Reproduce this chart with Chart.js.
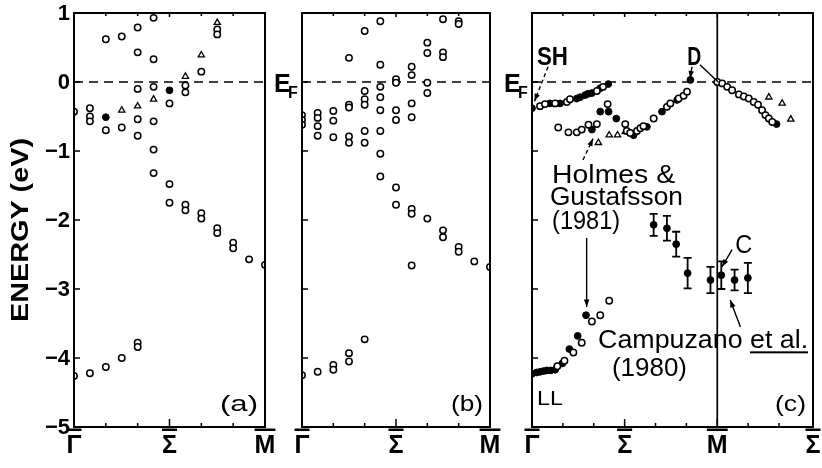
<!DOCTYPE html>
<html>
<head>
<meta charset="utf-8">
<script src="https://cdn.jsdelivr.net/npm/chart.js@4.4.0/dist/chart.umd.min.js"></script>
<style>
  html, body { margin: 0; padding: 0; background: #fff; }
  #wrap { position: relative; width: 822px; height: 468px; }
  #wrap canvas { position: absolute; left: 0; top: 0; }
</style>
</head>
<body>
<div id="wrap">
  <canvas id="pa" width="822" height="468"></canvas>
  <canvas id="pb" width="822" height="468"></canvas>
  <canvas id="pc" width="822" height="468"></canvas>
</div>
<script>
// ---- data: [k, energy(eV)] ----
// panel (a): k in steps of 1/12 of Gamma-M
const aOpen = [
  [0,-0.43],[0,-4.26],
  [1,-0.38],[1,-0.50],[1,-0.57],[1,-4.22],
  [2,0.62],[2,-0.70],[2,-4.13],
  [3,0.66],[3,-0.66],[3,-4.00],
  [4,0.79],[4,0.43],[4,-0.10],[4,-0.54],[4,-0.78],[4,-3.78],[4,-3.84],
  [5,0.93],[5,0.33],[5,-0.07],[5,-0.57],[5,-0.98],[5,-1.32],
  [6,-0.31],[6,-1.48],[6,-1.75],
  [7,-0.05],[7,-0.15],[7,-1.78],[7,-1.86],
  [8,0.15],[8,-1.90],[8,-1.98],
  [9,0.76],[9,0.69],[9,-2.12],[9,-2.19],
  [10,-2.33],[10,-2.41],
  [11,-2.57],
  [12,-2.65]
];
const aFilled = [[2,-0.51],[6,-0.12]];
const aTri = [[3,-0.41],[4,-0.35],[5,-0.25],[7,0.08],[8,0.39],[9,0.86]];

// panel (b)
const bOpen = [
  [0,-0.48],[0,-0.55],[0,-0.62],[0,-4.25],
  [1,-0.45],[1,-0.52],[1,-0.64],[1,-0.78],[1,-4.20],
  [2,-0.42],[2,-0.56],[2,-0.80],[2,-4.10],[2,-4.17],
  [3,0.35],[3,-0.33],[3,-0.37],[3,-0.79],[3,-0.88],[3,-3.93],[3,-4.05],
  [4,0.74],[4,-0.13],[4,-0.25],[4,-0.33],[4,-0.71],[4,-0.88],[4,-3.73],
  [5,0.88],[5,0.25],[5,-0.07],[5,-0.22],[5,-0.41],[5,-0.71],[5,-1.04],[5,-1.37],
  [6,0.04],[6,-0.01],[6,-0.41],[6,-0.55],[6,-1.53],[6,-1.78],
  [7,0.22],[7,0.10],[7,-0.31],[7,-0.51],[7,-1.84],[7,-1.91],[7,-2.66],
  [8,0.57],[8,0.42],[8,-0.01],[8,-0.16],[8,-1.98],
  [9,0.91],[9,0.43],[9,0.36],[9,-2.15],[9,-2.25],
  [10,0.88],[10,0.84],[10,-2.39],[10,-2.46],
  [11,-2.60],
  [12,-2.68]
];

// panel (c): x in tick units, Gamma=0, Sigma=3, M=6, Sigma=9.1
const cOpen = [
  [0.26,-0.35],[0.42,-0.32],[0.75,-0.31],[1.13,-0.29],[1.23,-0.25],[2.10,-0.13],[2.30,-0.07],
  [0.85,-0.66],[1.18,-0.73],[1.45,-0.73],[1.61,-0.69],[1.83,-0.62],[2.10,-0.61],[2.45,-0.32],
  [3.02,-0.61],[3.07,-0.71],[3.18,-0.74],[3.40,-0.71],[3.51,-0.67],[3.61,-0.64],[3.94,-0.53],
  [4.37,-0.36],[4.48,-0.31],[4.75,-0.24],[4.91,-0.20],[5.02,-0.14],
  [6.00,0.00],[6.16,-0.02],[6.32,-0.07],[6.48,-0.12],[6.70,-0.18],[6.86,-0.21],[7.02,-0.24],
  [7.18,-0.29],[7.32,-0.33],[7.45,-0.41],[7.56,-0.48],[7.67,-0.53],[7.78,-0.58],
  [0.82,-4.12],[1.05,-4.04],[1.34,-3.92],[1.61,-3.78],[1.94,-3.47],[2.21,-3.38],[2.50,-3.17]
];
const cFilled = [
  [0,-0.38],[0.58,-0.31],[0.91,-0.31],[1.45,-0.24],[1.56,-0.22],[1.72,-0.19],[1.82,-0.17],
  [1.94,-0.16],[2.21,-0.09],[2.47,-0.03],
  [1.94,-0.69],[2.21,-0.43],[2.48,-0.43],[2.73,-0.53],[3.29,-0.77],[3.72,-0.65],[4.21,-0.43],
  [4.70,-0.26],[5.13,0.03],[7.92,-0.61],
  [0,-4.23],[0.15,-4.21],[0.26,-4.20],[0.37,-4.19],[0.48,-4.18],[0.60,-4.18],[0.75,-4.17],
  [0.98,-4.08],[1.21,-3.87],[1.48,-3.68],[1.75,-3.38]
];
const cTri = [[2.15,-0.88],[2.50,-0.77],[2.77,-0.77],[3.02,-0.72],[7.67,-0.22],[8.10,-0.31],[8.38,-0.54]];

// Campuzano et al. points with error bars
const barX = [3.94, 4.37, 4.67, 5.04, 5.78, 6.13, 6.56, 6.99];
const barY = [-2.07, -2.12, -2.35, -2.77, -2.87, -2.80, -2.87, -2.84];
const barErr = [0.16, 0.18, 0.18, 0.22, 0.19, 0.20, 0.15, 0.22];

const yTicks = [1, 0, -1, -2, -3, -4, -5];
const abLabels = ['Γ', 'Σ', 'M'];
const abLabelPos = [0, 6, 12];
const cLabels = ['Γ', 'Σ', 'M', 'Σ'];
const cLabelPos = [0, 3, 6, 9.1];

const FONT = '"Liberation Sans", Arial, sans-serif';

const pts = arr => arr.map(p => ({ x: p[0], y: p[1] }));

// text squeezed/stretched to a given width
function fitText(ctx, str, x, y, w, font) {
    ctx.font = font;
    const m = ctx.measureText(str).width;
    ctx.save();
    ctx.translate(x, y);
    ctx.scale(w / m, 1);
    ctx.textAlign = 'left';
    ctx.textBaseline = 'alphabetic';
    ctx.fillText(str, 0, 0);
    ctx.restore();
    return w / m;
}

function arrow(ctx, x1, y1, x2, y2, dash, head) {
    ctx.save();
    ctx.lineWidth = 1.4;
    ctx.setLineDash(dash ? [4, 3] : []);
    ctx.beginPath();
    ctx.moveTo(x1, y1);
    ctx.lineTo(x2, y2);
    ctx.stroke();
    ctx.setLineDash([]);
    if (head) {
        const a = Math.atan2(y2 - y1, x2 - x1);
        const L = 8, s = 0.35;
        ctx.beginPath();
        ctx.moveTo(x2, y2);
        ctx.lineTo(x2 - L * Math.cos(a - s), y2 - L * Math.sin(a - s));
        ctx.lineTo(x2 - L * Math.cos(a + s), y2 - L * Math.sin(a + s));
        ctx.closePath();
        ctx.fill();
    }
    ctx.restore();
}

function markerSets(open, filled, tri) {
    return [
        { data: pts(open), pointStyle: 'circle', pointRadius: 3.2, pointBorderWidth: 1.5,
          pointBorderColor: '#000', pointBackgroundColor: '#fff' },
        { data: pts(filled), pointStyle: 'circle', pointRadius: 3.4, pointBorderWidth: 1,
          pointBorderColor: '#000', pointBackgroundColor: '#000' },
        { data: pts(tri), pointStyle: 'triangle', pointRadius: 3.6, pointBorderWidth: 1.3,
          pointBorderColor: '#000', pointBackgroundColor: '#fff' }
    ];
}

function lineSet(p1, p2, dash) {
    return { data: [p1, p2], showLine: true, borderColor: '#000', borderWidth: 1.7,
             borderDash: dash || [], pointRadius: 0 };
}

// frame, inward ticks, axis labels, E_F, panel tag
function framePlugin(cfg) {
    return {
        id: 'frame' + cfg.id,
        afterDatasetsDraw(chart) {
            const ctx = chart.ctx, a = chart.chartArea;
            const xs = chart.scales.x, ys = chart.scales.y;
            ctx.save();
            ctx.strokeStyle = '#000';
            ctx.fillStyle = '#000';
            ctx.lineWidth = 2;
            ctx.strokeRect(a.left, a.top, a.right - a.left, a.bottom - a.top);

            ctx.lineWidth = 1.5;
            ctx.beginPath();
            yTicks.forEach(v => {
                const y = ys.getPixelForValue(v);
                ctx.moveTo(a.left, y); ctx.lineTo(a.left + 6, y);
            });
            cfg.minor.forEach(v => {
                const x = xs.getPixelForValue(v);
                ctx.moveTo(x, a.bottom); ctx.lineTo(x, a.bottom - 4);
                ctx.moveTo(x, a.top); ctx.lineTo(x, a.top + 3);
            });
            cfg.major.forEach(v => {
                const x = xs.getPixelForValue(v);
                ctx.moveTo(x, a.bottom); ctx.lineTo(x, a.bottom - 8);
                ctx.moveTo(x, a.top); ctx.lineTo(x, a.top + 4);
            });
            ctx.stroke();

            // y tick labels
            if (cfg.yLabels) {
                ctx.font = 'bold 22px ' + FONT;
                ctx.textAlign = 'right';
                ctx.textBaseline = 'middle';
                yTicks.forEach(v => {
                    ctx.fillText(v < 0 ? '\u2212' + (-v) : String(v), a.left - 4, ys.getPixelForValue(v) + 1);
                });
            }

            // x labels with overbars
            ctx.font = 'bold 25px ' + FONT;
            ctx.textAlign = 'center';
            ctx.textBaseline = 'alphabetic';
            cfg.labels.forEach((t, i) => {
                const x = xs.getPixelForValue(cfg.labelPos[i]);
                const w = ctx.measureText(t).width;
                ctx.fillText(t, x, 453);
                ctx.fillRect(x - w / 2, 428.5, w, 2.5);
            });

            // E_F
            if (cfg.ef) {
                ctx.textAlign = 'left';
                ctx.font = 'bold 25px ' + FONT;
                ctx.fillText('E', a.left - 28, 92);
                ctx.font = 'bold 16px ' + FONT;
                ctx.fillText('F', a.left - 14, 98);
            }

            // panel tag
            fitText(ctx, cfg.tag, a.right - 7 - cfg.tagW, 411, cfg.tagW, '22px ' + FONT);

            if (cfg.extra) cfg.extra(chart, ctx, xs, ys);
            ctx.restore();
        }
    };
}

function makePanel(cfg, datasets) {
    new Chart(document.getElementById(cfg.id), {
        type: 'scatter',
        data: { datasets },
        options: {
            responsive: false,
            animation: false,
            events: [],
            layout: { padding: { left: cfg.left, right: 822 - cfg.right, top: 13, bottom: 41 } },
            plugins: { legend: { display: false }, tooltip: { enabled: false } },
            scales: {
                x: { type: 'linear', display: false, min: 0, max: cfg.xmax },
                y: { type: 'linear', display: false, min: -5, max: 1 }
            }
        },
        plugins: [framePlugin(cfg)]
    });
}

// ---- panel (a) ----
makePanel({
    id: 'pa', left: 74, right: 265, xmax: 12, yLabels: true,
    minor: [2, 4, 8, 10], major: [6],
    labels: abLabels, labelPos: abLabelPos, ef: false, tag: '(a)', tagW: 38,
    extra(chart, ctx) {
        // vertical axis title
        ctx.save();
        ctx.translate(28, 230);
        ctx.rotate(-Math.PI / 2);
        fitText(ctx, 'ENERGY (eV)', -92, 0, 184, 'bold 24px ' + FONT);
        ctx.restore();
    }
}, [
    ...markerSets(aOpen, aFilled, aTri),
    lineSet({ x: 0, y: 0 }, { x: 12, y: 0 }, [9, 6])
]);

// ---- panel (b) ----
makePanel({
    id: 'pb', left: 302, right: 490, xmax: 12, yLabels: false,
    minor: [2, 4, 8, 10], major: [6],
    labels: abLabels, labelPos: abLabelPos, ef: true, tag: '(b)', tagW: 32
}, [
    ...markerSets(bOpen, [], []),
    lineSet({ x: 0, y: 0 }, { x: 12, y: 0 }, [9, 6])
]);

// ---- panel (c) ----
makePanel({
    id: 'pc', left: 532, right: 813, xmax: 9.1, yLabels: false,
    minor: [1, 2, 4, 5, 7, 8], major: [3, 6],
    labels: cLabels, labelPos: cLabelPos, ef: true, tag: '(c)', tagW: 31,
    extra(chart, ctx, xs, ys) {
        const X = v => xs.getPixelForValue(v), Y = v => ys.getPixelForValue(v);
        // error bars
        ctx.lineWidth = 1.8;
        ctx.beginPath();
        barX.forEach((x, i) => {
            const px = X(x), t = Y(barY[i] + barErr[i]), b = Y(barY[i] - barErr[i]);
            ctx.moveTo(px, t); ctx.lineTo(px, b);
            ctx.moveTo(px - 4, t); ctx.lineTo(px + 4, t);
            ctx.moveTo(px - 4, b); ctx.lineTo(px + 4, b);
        });
        ctx.stroke();

        const bold = 'bold 25px ' + FONT, reg = '25px ' + FONT;
        fitText(ctx, 'SH', X(0.16), Y(0.25), 31, bold);
        fitText(ctx, 'D', X(5.03), Y(0.25), 14, bold);
        fitText(ctx, 'Holmes &', X(0.65), Y(-1.46), 123, reg);
        fitText(ctx, 'Gustafsson', X(0.58), Y(-1.78), 133, reg);
        fitText(ctx, '(1981)', X(0.65), Y(-2.13), 68, reg);
        fitText(ctx, 'C', X(6.58), Y(-2.48), 17, reg);
        const sx = fitText(ctx, 'Campuzano et al.', X(2.14), Y(-3.86), 210, reg);
        ctx.font = reg;
        const u0 = X(2.14) + ctx.measureText('Campuzano ').width * sx;
        const u1 = X(2.14) + 210;
        ctx.fillRect(u0, Y(-3.86) + 3, u1 - u0, 2);
        fitText(ctx, '(1980)', X(2.59), Y(-4.26), 75, reg);
        fitText(ctx, 'LL', X(0.16), Y(-4.68), 26, '20px ' + FONT);

        arrow(ctx, X(0.52), Y(0.22), X(0.08), Y(-0.28), true, true);
        arrow(ctx, X(5.44), Y(0.25), X(6.03), Y(0.0), false, false);
        arrow(ctx, X(5.18), Y(0.22), X(5.12), Y(0.05), false, true);
        arrow(ctx, X(1.65), Y(-1.13), X(1.98), Y(-0.82), true, true);
        arrow(ctx, X(1.77), Y(-2.26), X(1.77), Y(-3.26), false, true);
        arrow(ctx, X(6.48), Y(-2.43), X(6.15), Y(-2.68), false, true);
        arrow(ctx, X(6.75), Y(-3.55), X(6.42), Y(-3.16), false, true);
    }
}, [
    ...markerSets(cOpen, cFilled, cTri),
    { data: barX.map((x, i) => ({ x, y: barY[i] })), pointStyle: 'circle', pointRadius: 3.4,
      pointBackgroundColor: '#000', pointBorderColor: '#000' },
    lineSet({ x: 6, y: -5 }, { x: 6, y: 1 }),
    lineSet({ x: 0, y: 0 }, { x: 9.1, y: 0 }, [9, 6])
]);
</script>
</body>
</html>
